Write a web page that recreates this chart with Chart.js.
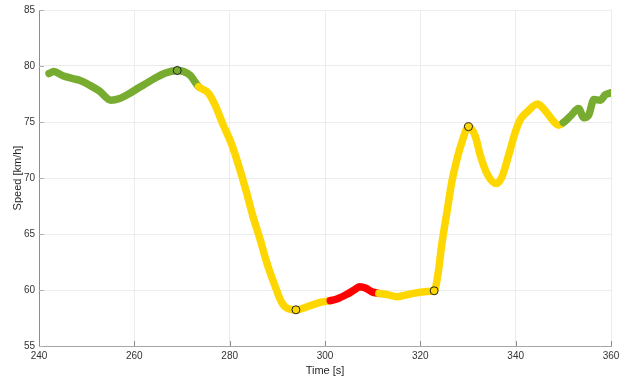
<!DOCTYPE html>
<html>
<head>
<meta charset="utf-8">
<script src="https://cdn.jsdelivr.net/npm/chart.js@4/dist/chart.umd.min.js"></script>
<style>
  html, body { margin: 0; padding: 0; background: #fff; }
  #wrap { width: 629px; height: 382px; position: relative; }
</style>
</head>
<body>
<div id="wrap"><canvas id="c" width="629" height="382"></canvas></div>
<script>
// ---- data ----
const times = [
  242.1, 243.1, 245.0, 247.1, 248.5, 250.6, 252.7, 255.1, 256.9, 259.0,
  261.1, 262.5, 264.3, 266.4, 269.0, 271.6, 273.5,
  275.5, 276.9, 278.6, 280.4, 282.2, 283.6, 284.9, 286.4, 287.8, 289.5,
  290.9, 292.3, 293.9, 296.9, 299.0, 301.1,
  302.5, 304.5, 306.3, 307.3, 308.6, 309.8, 311.3,
  313.0, 315.1, 317.9, 321.4, 322.9, 323.8, 324.5, 325.6, 326.6, 327.7,
  328.7, 330.1, 331.5, 332.6, 334.0, 335.9, 337.1, 338.5, 339.9, 341.0,
  342.4, 344.6, 345.6, 346.6, 348.3, 349.0, 350.0,
  351.5, 353.2, 354.3, 355.3, 356.4, 357.8, 358.8, 359.9
];
const speeds = [
  79.33, 79.5, 79.13, 78.87, 78.73, 78.29, 77.75, 76.95, 77.1, 77.55,
  78.1, 78.45, 78.9, 79.35, 79.6, 79.2, 78.15,
  77.6, 76.55, 74.79, 73.02, 70.68, 68.61, 66.55, 64.5, 62.43, 60.38,
  58.9, 58.32, 58.23, 58.6, 58.9, 59.05,
  59.2, 59.6, 60.05, 60.29, 60.15, 59.85, 59.7,
  59.6, 59.4, 59.64, 59.87, 59.93, 61.7, 64.06, 67.0, 69.64, 71.7,
  73.17, 74.58, 73.76, 72.0, 70.37, 69.5, 70.08, 72.0, 74.06, 75.23,
  75.9, 76.6, 76.3, 75.8, 74.9, 74.7, 74.95,
  75.53, 76.2, 75.38, 75.6, 77.0, 76.95, 77.43, 77.6
];
// zone of the segment that starts at each point: g = green, y = yellow, r = red
const zones = [
  'g','g','g','g','g','g','g','g','g','g',
  'g','g','g','g','g','g','y',
  'y','y','y','y','y','y','y','y','y','y',
  'y','y','y','y','y','r',
  'r','r','r','r','r','r','y',
  'y','y','y','y','y','y','y','y','y','y',
  'y','y','y','y','y','y','y','y','y','y',
  'y','y','y','y','y','y','g',
  'g','g','g','g','g','g','g','g'
];
const markerTimes = [269.0, 293.9, 322.9, 330.1];
const markerSpeeds = [79.6, 58.23, 59.93, 74.58];
const markerZones = ['g', 'y', 'y', 'y'];
const xTicks = [240, 260, 280, 300, 320, 340, 360];
const yTicks = [55, 60, 65, 70, 75, 80, 85];

const zoneColor = { g: '#77AC30', y: '#FFD700', r: '#FF0000' };

const linePoints = times.map((t, i) => ({ x: t, y: speeds[i] }));
const markerPoints = markerTimes.map((t, i) => ({ x: t, y: markerSpeeds[i] }));

const insideTicks = {
  id: 'insideTicks',
  afterDraw(chart) {
    const ctx = chart.ctx;
    const xs = chart.scales.x, ys = chart.scales.y;
    const a = chart.chartArea;
    ctx.save();
    ctx.lineWidth = 1;
    ctx.strokeStyle = '#8c8c8c';
    xTicks.forEach(v => {
      const px = Math.round(xs.getPixelForValue(v)) + 0.5;
      ctx.beginPath(); ctx.moveTo(px, a.bottom); ctx.lineTo(px, a.bottom - 5); ctx.stroke();
    });
    ctx.strokeStyle = '#b0b0b0';
    yTicks.forEach(v => {
      const py = Math.round(ys.getPixelForValue(v)) + 0.5;
      ctx.beginPath(); ctx.moveTo(a.left, py); ctx.lineTo(a.left + 5, py); ctx.stroke();
    });
    ctx.restore();
  }
};

new Chart(document.getElementById('c'), {
  type: 'line',
  data: {
    datasets: [
      {
        type: 'scatter',
        data: markerPoints,
        order: 0,
        showLine: false,
        pointRadius: 4,
        pointBorderWidth: 1,
        pointBorderColor: '#222',
        pointBackgroundColor: markerZones.map(z => zoneColor[z])
      },
      {
        data: linePoints,
        order: 1,
        borderWidth: 7.5,
        borderColor: zoneColor.g,
        borderCapStyle: 'round',
        borderJoinStyle: 'round',
        pointRadius: 0,
        cubicInterpolationMode: 'monotone',
        segment: {
          borderColor: c => zoneColor[zones[c.p0DataIndex]]
        }
      }
    ]
  },
  options: {
    responsive: false,
    animation: false,
    events: [],
    layout: { padding: { top: 6, right: 18, left: 0, bottom: 0 } },
    plugins: { legend: { display: false }, tooltip: { enabled: false } },
    scales: {
      x: {
        type: 'linear',
        min: 240, max: 360,
        afterBuildTicks: s => { s.ticks = xTicks.map(v => ({ value: v })); },
        afterFit: s => { s.height = 36; },
        grid: { color: '#ececec', drawTicks: false },
        border: { color: '#a6a6a6', width: 1 },
        ticks: { padding: 4, color: '#333', font: { family: 'Liberation Sans, Arial, sans-serif', size: 10 }, maxRotation: 0 },
        title: { display: true, text: 'Time [s]', color: '#262626', font: { family: 'Liberation Sans, Arial, sans-serif', size: 11 }, padding: { top: 0, bottom: 4 } }
      },
      y: {
        type: 'linear',
        min: 55, max: 85,
        afterBuildTicks: s => { s.ticks = yTicks.map(v => ({ value: v })); },
        afterFit: s => { s.width = 39; },
        grid: { color: '#ececec', drawTicks: false },
        border: { color: '#8c8c8c', width: 1 },
        ticks: { padding: 4, color: '#333', font: { family: 'Liberation Sans, Arial, sans-serif', size: 10 } },
        title: { display: true, text: 'Speed [km/h]', color: '#262626', font: { family: 'Liberation Sans, Arial, sans-serif', size: 11 }, padding: { top: 11, bottom: 0 } }
      }
    }
  },
  plugins: [insideTicks]
});
</script>
</body>
</html>
